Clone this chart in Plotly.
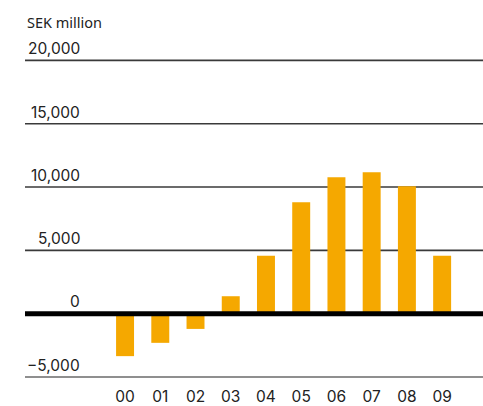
import plotly.graph_objects as go

# Annual values, SEK million
years = ["00", "01", "02", "03", "04", "05", "06", "07", "08", "09"]
values = [-3350, -2300, -1200, 1380, 4580, 8810, 10780, 11170, 10070, 4580]

# Axis gridlines and their labels
grid_vals = [-5000, 0, 5000, 10000, 15000, 20000]
grid_labels = ["\u22125,000", "0", "5,000", "10,000", "15,000", "20,000"]

BAR_COLOR = "#F5A800"
NUM_FONT = "Inter"
TXT_FONT = "Noto Sans"

fig = go.Figure()
fig.add_trace(go.Bar(
    x=list(range(len(years))),
    y=values,
    marker=dict(color=BAR_COLOR, line=dict(width=0)),
    width=0.51,
))

# gridlines under the bars
for v in grid_vals:
    if v == 0:
        continue
    fig.add_shape(type="line", xref="paper", yref="y", x0=0, x1=1, y0=v, y1=v,
                  line=dict(color="#3a3a3a" if v != -5000 else "#6a6a6a", width=1.6),
                  layer="below")

# heavy baseline at zero, above the bars
fig.add_shape(type="line", xref="paper", yref="y", x0=0, x1=1, y0=0, y1=0,
              line=dict(color="#000000", width=5), layer="above")

# value labels sitting on the gridlines
for v, t in zip(grid_vals, grid_labels):
    fig.add_annotation(xref="paper", yref="y", x=0.1245, y=v, text=t,
                       showarrow=False, xanchor="right", yanchor="bottom",
                       yshift=0 if v != 0 else 1,
                       font=dict(family=NUM_FONT, size=15.5, color="#222"))

fig.add_annotation(xref="paper", yref="paper", x=0.0, y=1.0, text="SEK million",
                   showarrow=False, xanchor="left", yanchor="bottom", yshift=11,
                   font=dict(family=TXT_FONT, size=14.5, color="#222"))

fig.update_layout(
    width=483, height=406,
    margin=dict(l=25, r=0, t=45, b=21),
    paper_bgcolor="white", plot_bgcolor="white",
    showlegend=False,
    bargap=0.49,
    xaxis=dict(range=[-2.84, 10.16], tickmode="array",
               tickvals=list(range(len(years))), ticktext=years,
               showgrid=False, zeroline=False, showline=False, ticks="",
               ticklabelstandoff=2,
               tickfont=dict(family=NUM_FONT, size=15.5, color="#222")),
    yaxis=dict(range=[-5471, 21216], showgrid=False, zeroline=False,
               showticklabels=False, showline=False, ticks=""),
)

fig.write_html("out.html")
